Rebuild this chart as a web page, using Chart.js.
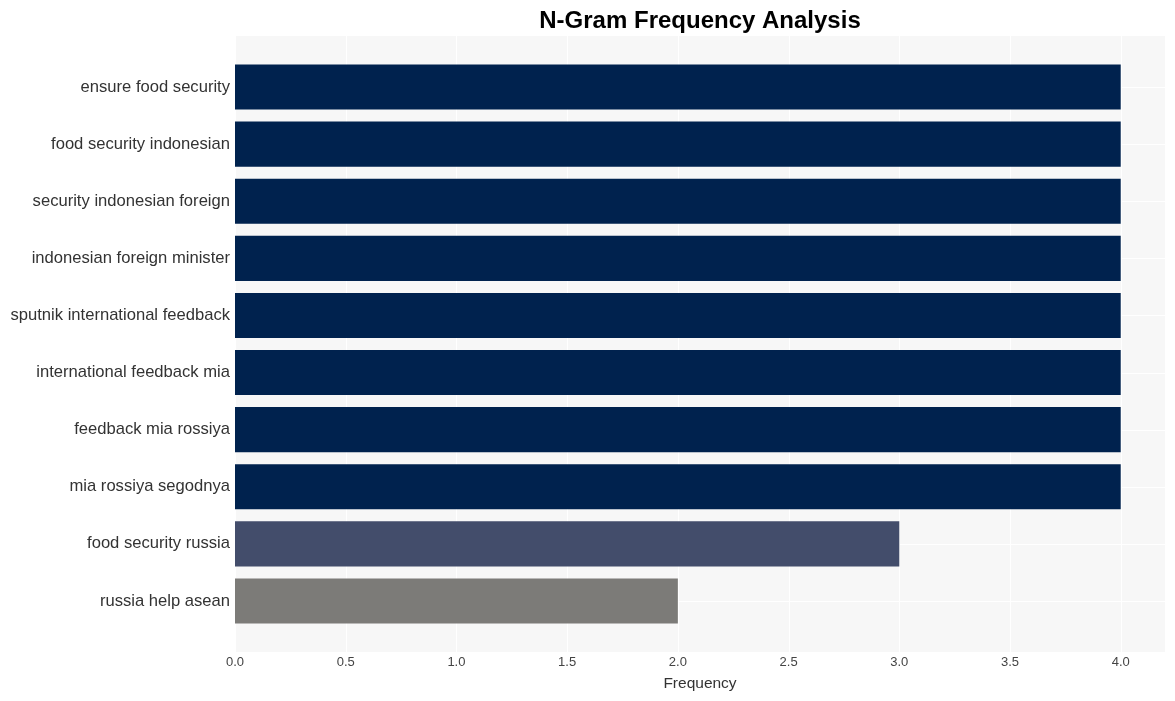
<!DOCTYPE html>
<html>
<head>
<meta charset="utf-8">
<script src="https://cdn.jsdelivr.net/npm/chart.js@4.4.0/dist/chart.umd.min.js"></script>
<style>
  html, body { margin: 0; padding: 0; background: #ffffff; }
  #wrap { width: 1175px; height: 701px; }
</style>
</head>
<body>
<div id="wrap"><canvas id="ngramChart" width="1175" height="701"></canvas></div>
<script>
// n-gramas y su frecuencia
var ngrams = [
    "ensure food security",
    "food security indonesian",
    "security indonesian foreign",
    "indonesian foreign minister",
    "sputnik international feedback",
    "international feedback mia",
    "feedback mia rossiya",
    "mia rossiya segodnya",
    "food security russia",
    "russia help asean"
]
var frequency = [4, 4, 4, 4, 4, 4, 4, 4, 3, 2]
var barColors = ["#00224e", "#00224e", "#00224e", "#00224e", "#00224e",
                 "#00224e", "#00224e", "#00224e", "#434d6b", "#7c7b78"]
var xTicks = [0, 0.5, 1, 1.5, 2, 2.5, 3, 3.5, 4]

var FONT = "'Liberation Sans', Arial, Helvetica, sans-serif"

// fondo gris y rejilla blanca estilo ggplot, se dibuja antes de las barras
var panelPlugin = {
    id: "panel",
    beforeDraw: function(chart){
        var ctx = chart.ctx
        var area = chart.chartArea
        var xs = chart.scales.x
        var ys = chart.scales.y
        var top = 36, bottom = 652
        ctx.save()
        ctx.fillStyle = "#f7f7f7"
        ctx.fillRect(area.left, top, area.right - area.left, bottom - top)
        ctx.strokeStyle = "#ffffff"
        ctx.lineWidth = 1
        xTicks.forEach(function(v){
            var px = Math.round(xs.getPixelForValue(v)) + 0.5
            ctx.beginPath()
            ctx.moveTo(px, top)
            ctx.lineTo(px, bottom)
            ctx.stroke()
        })
        ngrams.forEach(function(n, i){
            var py = Math.round(ys.getPixelForValue(i)) + 0.5
            ctx.beginPath()
            ctx.moveTo(area.left, py)
            ctx.lineTo(area.right, py)
            ctx.stroke()
        })
        ctx.restore()
    },
    afterDraw: function(chart){
        var ctx = chart.ctx
        var area = chart.chartArea
        ctx.save()
        ctx.fillStyle = "#000000"
        ctx.font = "bold 24px " + FONT
        ctx.textAlign = "center"
        ctx.textBaseline = "middle"
        ctx.fillText("N-Gram Frequency Analysis", (area.left + area.right) / 2, 21)
        ctx.restore()
    }
}

var ctx = document.getElementById("ngramChart").getContext("2d")
var chart = new Chart(ctx, {
    type: "bar",
    data: {
        labels: ngrams,
        datasets: [{
            label: "Frequency",
            data: frequency,
            backgroundColor: barColors,
            borderWidth: 0,
            barPercentage: 0.79,
            categoryPercentage: 1.0
        }]
    },
    plugins: [panelPlugin],
    options: {
        indexAxis: "y",
        responsive: false,
        animation: false,
        devicePixelRatio: 1,
        layout: {
            padding: { top: 58.5, right: 10, bottom: 0, left: 0 }
        },
        plugins: {
            legend: { display: false },
            tooltip: { enabled: false },
            title: { display: false }
        },
        scales: {
            x: {
                type: "linear",
                min: 0,
                max: 4.2,
                afterBuildTicks: function(scale){
                    scale.ticks = xTicks.map(function(v){ return { value: v } })
                },
                ticks: {
                    color: "#444444",
                    font: { family: FONT, size: 13 },
                    padding: 25,
                    callback: function(v){ return Number(v).toFixed(1) }
                },
                grid: { display: false, drawTicks: false },
                border: { display: false },
                title: {
                    display: true,
                    text: "Frequency",
                    color: "#333333",
                    font: { family: FONT, size: 15.5 },
                    padding: { top: 0, bottom: 8 }
                },
                afterFit: function(scale){ scale.height = 71.5 }
            },
            y: {
                type: "category",
                offset: true,
                ticks: {
                    color: "#333333",
                    font: { family: FONT, size: 16.6 },
                    padding: 5
                },
                grid: { display: false, drawTicks: false },
                border: { display: false },
                afterFit: function(scale){ scale.width = 235 }
            }
        }
    }
})
</script>
</body>
</html>
